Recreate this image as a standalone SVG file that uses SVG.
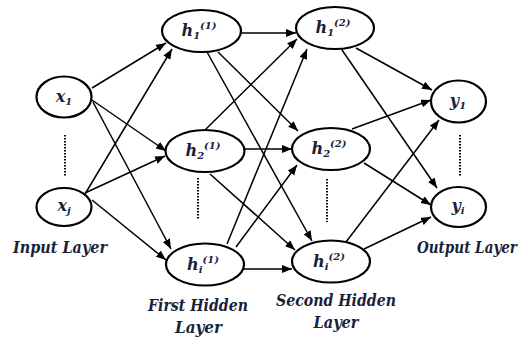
<svg xmlns="http://www.w3.org/2000/svg" width="528" height="340" viewBox="0 0 528 340">
  <style>
    .node ellipse { fill: #ffffff; stroke: #000000; stroke-width: 2.2; }
    .lbl { font-family: 'DejaVu Serif', serif; font-weight: 700; font-style: italic; fill: #1a1f3a; text-anchor: middle; }
    .nl { font-size: 16px; }
    .small { font-size: 10px; }
    .cap { font-size: 16.5px; }
    .edge { stroke: #000000; stroke-width: 1.5; fill: none; marker-end: url(#arrow); }
    .dots { stroke: #000000; stroke-width: 2; stroke-dasharray: 1.5 1.5; fill: none; }
  </style>
  <defs>
    <marker id="arrow" markerUnits="userSpaceOnUse" markerWidth="11" markerHeight="9" refX="10" refY="4" orient="auto">
      <path d="M0,0 L10,4 L0,8 z" fill="#000000"/>
    </marker>
  </defs>
  <rect width="528" height="340" fill="#ffffff"/>

  <!-- connectors -->
  <g id="connectors">
    <!-- input layer to first hidden layer -->
    <path class="edge" d="M92,88 L166,43"/>
    <path class="edge" d="M92,100 L166,151"/>
    <path class="edge" d="M93,102 L171,249"/>
    <path class="edge" d="M85,194 L172,49"/>
    <path class="edge" d="M85,193 L165,156"/>
    <path class="edge" d="M92,200 L166,260"/>
    <!-- first hidden layer to second hidden layer -->
    <path class="edge" d="M241,33 L296,33"/>
    <path class="edge" d="M218,52 L298,131"/>
    <path class="edge" d="M207,52 L312,241"/>
    <path class="edge" d="M205,130 L297,39"/>
    <path class="edge" d="M244,149 L292,149"/>
    <path class="edge" d="M210,174 L295,250"/>
    <path class="edge" d="M227,244 L307,49"/>
    <path class="edge" d="M236,247 L297,165"/>
    <path class="edge" d="M243,269 L292,269"/>
    <!-- second hidden layer to output layer -->
    <path class="edge" d="M356,48 L432,90"/>
    <path class="edge" d="M342,50 L437,188"/>
    <path class="edge" d="M352,129 L431,100"/>
    <path class="edge" d="M364,163 L431,205"/>
    <path class="edge" d="M346,242 L439,120"/>
    <path class="edge" d="M364,249 L431,217"/>
  </g>

  <!-- ellipsis markers between nodes -->
  <g id="ellipses-dots">
    <path class="dots" d="M65,135 L65,176"/>
    <path class="dots" d="M198,178 L198,220"/>
    <path class="dots" d="M327,179 L327,222"/>
    <path class="dots" d="M460,135 L460,176"/>
  </g>

  <!-- input layer -->
  <g id="x1" class="node">
    <ellipse cx="64" cy="97" rx="27.5" ry="20.5"/>
    <text class="lbl nl" x="64" y="102">x<tspan class="small" dy="3">1</tspan></text>
  </g>
  <g id="xj" class="node">
    <ellipse cx="64" cy="207" rx="27.5" ry="19"/>
    <text class="lbl nl" x="64" y="211">x<tspan class="small" dy="3">j</tspan></text>
  </g>

  <!-- first hidden layer -->
  <g id="h1-1" class="node">
    <ellipse cx="201.5" cy="31" rx="39.5" ry="21"/>
    <text class="lbl nl" x="199" y="36">h<tspan class="small" dy="3">1</tspan><tspan class="small" dy="-10">(1)</tspan></text>
  </g>
  <g id="h2-1" class="node">
    <ellipse cx="205" cy="151" rx="39.5" ry="21"/>
    <text class="lbl nl" x="203" y="156">h<tspan class="small" dy="3">2</tspan><tspan class="small" dy="-10">(1)</tspan></text>
  </g>
  <g id="hi-1" class="node">
    <ellipse cx="205" cy="264.5" rx="39" ry="21"/>
    <text class="lbl nl" x="203" y="270">h<tspan class="small" dy="3">i</tspan><tspan class="small" dy="-10">(1)</tspan></text>
  </g>

  <!-- second hidden layer -->
  <g id="h1-2" class="node">
    <ellipse cx="335" cy="28" rx="39" ry="21"/>
    <text class="lbl nl" x="333" y="33">h<tspan class="small" dy="3">1</tspan><tspan class="small" dy="-10">(2)</tspan></text>
  </g>
  <g id="h2-2" class="node">
    <ellipse cx="331" cy="149" rx="39" ry="21"/>
    <text class="lbl nl" x="329" y="154">h<tspan class="small" dy="3">2</tspan><tspan class="small" dy="-10">(2)</tspan></text>
  </g>
  <g id="hi-2" class="node">
    <ellipse cx="331" cy="261.5" rx="39" ry="21"/>
    <text class="lbl nl" x="329" y="267">h<tspan class="small" dy="3">i</tspan><tspan class="small" dy="-10">(2)</tspan></text>
  </g>

  <!-- output layer -->
  <g id="y1" class="node">
    <ellipse cx="458.5" cy="101.5" rx="27.5" ry="21"/>
    <text class="lbl nl" x="458" y="106">y<tspan class="small" dy="3">1</tspan></text>
  </g>
  <g id="yi" class="node">
    <ellipse cx="458.5" cy="207" rx="27.5" ry="20"/>
    <text class="lbl nl" x="458" y="211">y<tspan class="small" dy="3">i</tspan></text>
  </g>

  <!-- layer captions -->
  <g id="captions">
    <text class="lbl cap" x="60" y="253" textLength="94" lengthAdjust="spacingAndGlyphs">Input Layer</text>
    <text class="lbl cap" x="198" y="311" textLength="100" lengthAdjust="spacingAndGlyphs">First Hidden</text>
    <text class="lbl cap" x="198.5" y="333" textLength="47" lengthAdjust="spacingAndGlyphs">Layer</text>
    <text class="lbl cap" x="336" y="306" textLength="120" lengthAdjust="spacingAndGlyphs">Second Hidden</text>
    <text class="lbl cap" x="336" y="328" textLength="45" lengthAdjust="spacingAndGlyphs">Layer</text>
    <text class="lbl cap" x="467" y="253" textLength="100" lengthAdjust="spacingAndGlyphs">Output Layer</text>
  </g>
</svg>
